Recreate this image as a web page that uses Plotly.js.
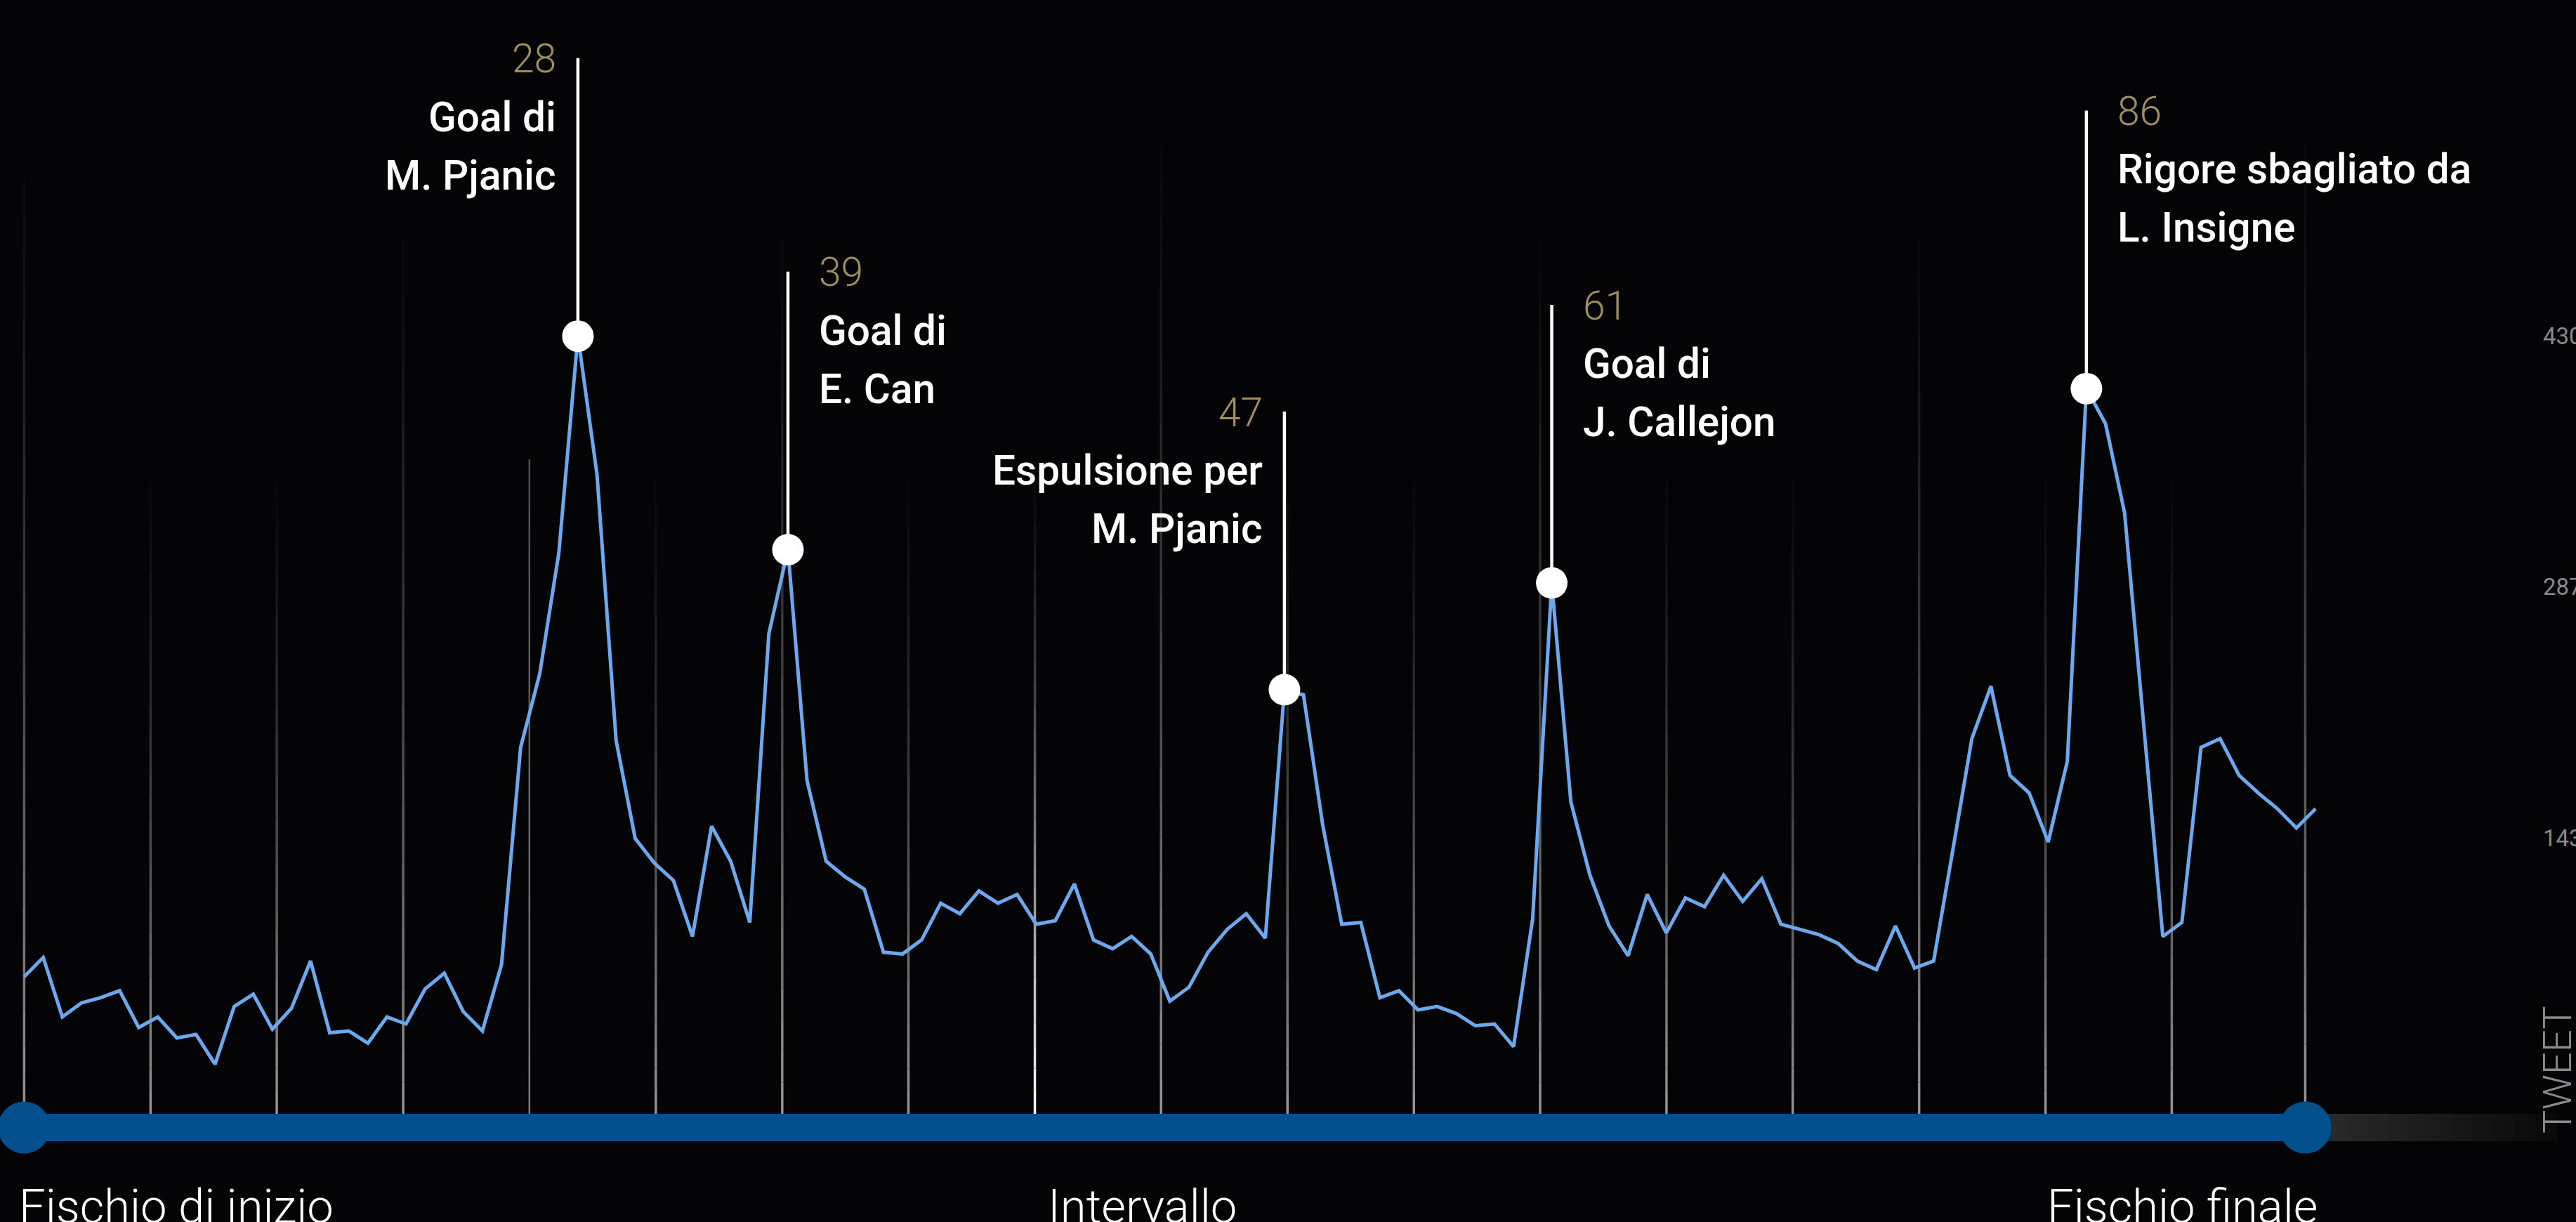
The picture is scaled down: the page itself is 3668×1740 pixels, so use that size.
<!DOCTYPE html>
<html><head><meta charset="utf-8">
<script src="https://cdn.plot.ly/plotly-3.0.1.min.js"></script>
<style>html,body{margin:0;padding:0;background:#040407;overflow:hidden;}#chart{width:3668px;height:1740px;}</style>
</head><body><div id="chart"></div>
<script>
// ---------- data ----------
const tweets = [
  64, 75, 41, 49, 52, 56, 35, 41, 29, 31,
  14, 47, 54, 34, 46, 73, 32, 33, 26, 41,
  37, 57, 66, 44, 33, 71, 195, 237, 306, 430,
  351, 199, 143, 129, 119, 87, 150, 130, 95, 260,
  308, 176, 130, 121, 114, 78, 77, 85, 106, 100,
  113, 106, 111, 94, 96, 117, 85, 80, 87, 77,
  50, 58, 78, 91, 100, 86, 228, 225, 151, 94,
  95, 52, 56, 45, 47, 43, 36, 37, 24, 97,
  289, 164, 122, 93, 76, 111, 89, 109, 104, 122,
  107, 120, 94, 91, 88, 83, 73, 68, 93, 69,
  73, 136, 200, 230, 179, 169, 141, 187, 400, 380,
  329, 208, 87, 95, 195, 200, 179, 169, 160, 149,
  160
];
const sampleIndex = tweets.map((_, i) => i);
const eventIndex  = [29, 40, 66, 80, 108];
const eventMinute = ['28', '39', '47', '61', '86'];
const eventLine1  = ['Goal di', 'Goal di', 'Espulsione per', 'Goal di', 'Rigore sbagliato da'];
const eventLine2  = ['M. Pjanic', 'E. Can', 'M. Pjanic', 'J. Callejon', 'L. Insigne'];
const phaseLabels = ['Fischio di inizio', 'Intervallo', 'Fischio finale'];
const tickValues  = [143.33, 286.67, 430];
const tickLabels  = ['143', '287', '430'];
const axisTitle   = 'TWEET';
const gridPositions = [0, 6.62, 13.23, 19.85, 26.46, 33.08, 39.70, 46.31, 52.93,
  59.54, 66.16, 72.78, 79.39, 86.01, 92.62, 99.24, 105.86, 112.47, 119.46];

// ---------- layout helpers ----------
const W = 3668, H = 1740;
const xRange = [-1.265, 133.64];
const yRange = [-76.16, 622.07];
const P = px => 1 - px / H;           // pixel-from-top -> paper y
const BG = '#040407';
const BLUE = '#04508f';
const eventSide = ['left', 'right', 'left', 'right', 'right'];

const shapes = [];

// gradient grid lines
const gridBottom = 1586;
gridPositions.forEach((gx, i) => {
  let top, rgb = [150, 150, 150], maxOp = 1, minOp = 0, pw = 1.4, width = 3.5;
  if (i % 9 === 0) top = 110;
  else if (i % 3 === 0) top = 250;
  else top = 620;
  if (i === 8) { rgb = [255, 255, 255]; top = 620; }
  if (i === 4) { top = 654; minOp = 0.5; maxOp = 0.85; pw = 1; width = 2.5; }
  const N = 30;
  for (let k = 0; k < N; k++) {
    const y0 = top + (gridBottom - top) * k / N;
    const y1 = top + (gridBottom - top) * (k + 1) / N;
    const t = (k + 0.5) / N;
    const op = minOp + (maxOp - minOp) * Math.pow(t, pw);
    shapes.push({
      type: 'line', layer: 'below', xref: 'x', yref: 'paper',
      x0: gx, x1: gx, y0: P(y0), y1: P(y1),
      line: { color: `rgba(${rgb[0]},${rgb[1]},${rgb[2]},${op.toFixed(3)})`, width: width }
    });
  }
});

// grey fading extension of the timeline bar
const barTop = 1586, barBot = 1625, barMid = (barTop + barBot) / 2;
{
  const xa = gridPositions[18], xb = 132.6, N = 24;
  for (let k = 0; k < N; k++) {
    const g = Math.round(44 - (44 - 10) * k / (N - 1));
    shapes.push({
      type: 'rect', layer: 'below', xref: 'x', yref: 'paper',
      x0: xa + (xb - xa) * k / N, x1: xa + (xb - xa) * (k + 1) / N + 0.05,
      y0: P(barBot), y1: P(barTop),
      fillcolor: `rgb(${g},${g},${g})`, line: { width: 0 }
    });
  }
}
// blue timeline bar
shapes.push({
  type: 'rect', layer: 'below', xref: 'x', yref: 'paper',
  x0: gridPositions[0], x1: gridPositions[18], y0: P(barBot), y1: P(barTop),
  fillcolor: BLUE, line: { width: 0 }
});
[gridPositions[0], gridPositions[18]].forEach(cx => {
  shapes.push({
    type: 'circle', layer: 'below', xref: 'x', yref: 'paper',
    xsizemode: 'pixel', ysizemode: 'pixel', xanchor: cx, yanchor: P(barMid),
    x0: -37, x1: 37, y0: -37, y1: 37, fillcolor: BLUE, line: { width: 0 }
  });
});

// event stems
eventIndex.forEach(ix => {
  shapes.push({
    type: 'line', layer: 'below', xref: 'x', yref: 'y',
    ysizemode: 'pixel', yanchor: tweets[ix],
    x0: ix, x1: ix, y0: 0, y1: 396,
    line: { color: '#ffffff', width: 4.5 }
  });
});

// ---------- annotations ----------
const annotations = [];
const FONT = 'Roboto, "Noto Sans", sans-serif';
eventIndex.forEach((ix, i) => {
  const left = eventSide[i] === 'left';
  const base = {
    x: ix, y: tweets[ix], xref: 'x', yref: 'y', showarrow: false,
    xanchor: left ? 'right' : 'left', yanchor: 'middle', align: left ? 'right' : 'left',
    xshift: left ? -29 : 42
  };
  annotations.push(Object.assign({}, base, {
    text: eventMinute[i], yshift: 395,
    font: { family: FONT, size: 57, color: '#a08f5e', weight: 300 }
  }));
  annotations.push(Object.assign({}, base, {
    text: eventLine1[i], yshift: 312,
    font: { family: FONT, size: 58.5, color: '#ffffff', weight: 500 }
  }));
  annotations.push(Object.assign({}, base, {
    text: eventLine2[i], yshift: 229,
    font: { family: FONT, size: 58.5, color: '#ffffff', weight: 500 }
  }));
});

const phaseFont = { family: FONT, size: 67, color: '#ffffff', weight: 300 };
annotations.push({ text: phaseLabels[0], x: gridPositions[0], xref: 'x', y: 0, yref: 'paper',
  xanchor: 'left', yanchor: 'middle', xshift: -9, yshift: 22, showarrow: false, font: phaseFont });
annotations.push({ text: phaseLabels[1], x: gridPositions[8], xref: 'x', y: 0, yref: 'paper',
  xanchor: 'left', yanchor: 'middle', xshift: 16, yshift: 22, showarrow: false, font: phaseFont });
annotations.push({ text: phaseLabels[2], x: sampleIndex[sampleIndex.length - 1], xref: 'x', y: 0, yref: 'paper',
  xanchor: 'right', yanchor: 'middle', xshift: 5, yshift: 22, showarrow: false, font: phaseFont });

annotations.push({ text: axisTitle, x: 3642 / W, xref: 'paper', y: P(1523), yref: 'paper',
  xanchor: 'center', yanchor: 'middle', textangle: -90, showarrow: false,
  font: { family: FONT, size: 56, color: '#8a8a8a', weight: 300 } });

// ---------- traces ----------
const traces = [
  { x: sampleIndex, y: tweets, type: 'scatter', mode: 'lines',
    line: { color: '#6ba8ee', width: 5 }, hoverinfo: 'skip' },
  { x: eventIndex, y: eventIndex.map(i => tweets[i]), type: 'scatter', mode: 'markers',
    marker: { size: 45, color: '#ffffff', line: { width: 0 } }, hoverinfo: 'skip' }
];

const layout = {
  width: W, height: H,
  margin: { l: 0, r: 0, t: 0, b: 0, pad: 0 },
  paper_bgcolor: BG, plot_bgcolor: BG,
  showlegend: false,
  xaxis: { range: xRange, visible: false, fixedrange: true },
  yaxis: {
    range: yRange, anchor: 'free', position: 3620 / W, side: 'right',
    showgrid: false, zeroline: false, showline: false, ticks: '',
    tickvals: tickValues, ticktext: tickLabels,
    tickfont: { family: FONT, size: 33, color: '#8a8a8a' }, fixedrange: true
  },
  shapes: shapes,
  annotations: annotations
};

Plotly.newPlot('chart', traces, layout, { displayModeBar: false, staticPlot: true });
</script>
</body></html>
